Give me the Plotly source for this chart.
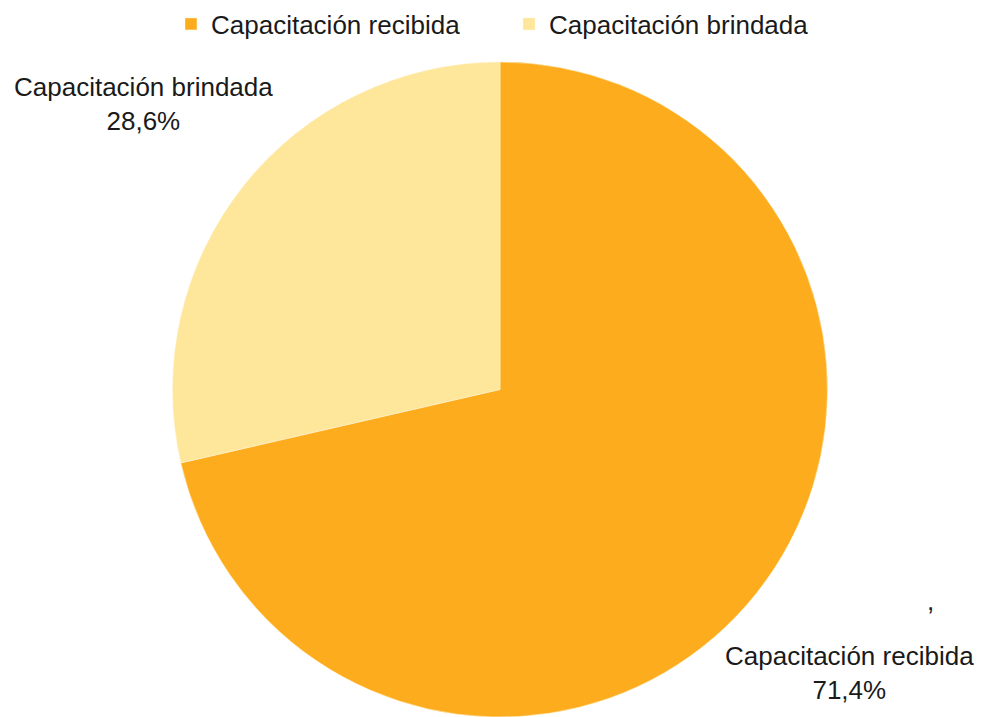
import plotly.graph_objects as go

labels = ["Capacitación recibida", "Capacitación brindada"]
values = [71.4, 28.6]
colors = ["#FDAC1D", "#FEE69A"]

# the page body has an 8px margin, so the figure is drawn 8px in
OFF = 8
W, H = 982 - OFF, 717 - OFF
PIE_TOP = 62 - OFF
PIE_CX = 500 - OFF

fig = go.Figure(go.Pie(
    labels=labels,
    values=values,
    sort=False,
    direction="clockwise",
    rotation=0,
    marker=dict(colors=colors, line=dict(color="#FFF4D6", width=0.5)),
    textinfo="none",
    hoverinfo="label+percent",
    domain=dict(x=[(2 * PIE_CX - W) / W, 1], y=[0, 1 - PIE_TOP / H]),
))

def px(x):
    return (x - OFF) / W

def py(y):
    return 1 - (y - OFF) / H

total = sum(values)
pos = {labels[0]: (849, 673), labels[1]: (143, 104)}
ann = []
for lab, v in zip(labels, values):
    x, y = pos[lab]
    pct = f"{v / total * 100:.1f}".replace(".", ",")
    ann.append(dict(x=px(x), y=py(y), xref="paper", yref="paper",
                    text=f"{lab}<br>{pct}%", showarrow=False,
                    xanchor="center", yanchor="middle",
                    font=dict(size=26, color="#1a1a1a")))
ann.append(dict(x=px(930), y=py(601), xref="paper", yref="paper", text=",",
                showarrow=False, xanchor="center", yanchor="middle",
                font=dict(size=26, color="#1a1a1a")))

fig.update_layout(
    width=W, height=H,
    margin=dict(l=0, r=0, t=0, b=0, autoexpand=False),
    paper_bgcolor="white",
    plot_bgcolor="white",
    font=dict(family="Liberation Sans, Arial, sans-serif", size=26, color="#1a1a1a"),
    separators=",.",
    showlegend=True,
    legend=dict(orientation="h", x=px(509), xanchor="center",
                y=py(24), yanchor="middle",
                font=dict(size=26, color="#1a1a1a"),
                entrywidth=293, entrywidthmode="pixels",
                traceorder="normal"),
    annotations=ann,
)

fig.write_html("out.html")
